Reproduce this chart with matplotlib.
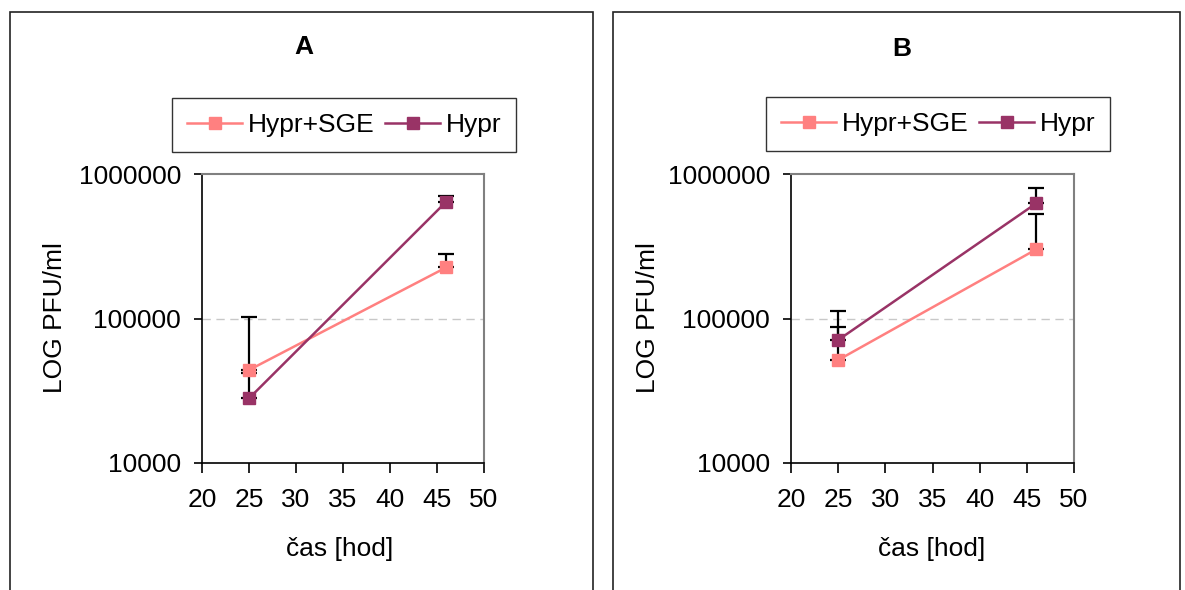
import numpy as np
import matplotlib.pyplot as plt
from matplotlib.patches import Rectangle
from matplotlib.ticker import FixedLocator, FixedFormatter

plt.rcParams['font.family'] = ['Liberation Sans', 'DejaVu Sans']

cas = [25, 46]
labels = ['Hypr+SGE', 'Hypr']
colors = ['#ff8080', '#993366']

# panel A
a_sge = [44000, 226000]
a_sge_up = [103000, 279000]
a_hypr = [28000, 645000]
a_hypr_up = [42000, 708000]

# panel B
b_sge = [51600, 301000]
b_sge_up = [87800, 528000]
b_hypr = [71000, 627000]
b_hypr_up = [113000, 796000]

yticks = [10000, 100000, 1000000]
ytick_labels = ['10000', '100000', '1000000']
xticks = [20, 25, 30, 35, 40, 45, 50]

W, H = 1185, 590
FS = 19
fig = plt.figure(figsize=(W / 100, H / 100), dpi=100)


def px(x0, y0, x1, y1):
    # pixel box (top-left origin) to figure coords
    return [x0 / W, 1 - y1 / H, (x1 - x0) / W, (y1 - y0) / H]


def panel(ax_box, frame_x, title, title_xy, leg_xy, ylab_x, xlab_x, series):
    fig.add_artist(Rectangle((frame_x[0] / W, -0.05), (frame_x[1] - frame_x[0]) / W,
                             1.05 - 12 / H, transform=fig.transFigure,
                             fill=False, edgecolor='#222222', lw=1.2))
    ax = fig.add_axes(px(*ax_box))
    handles = []
    for (vals, ups), lab, col in zip(series, labels, colors):
        err = [np.zeros(len(vals)), np.array(ups) - np.array(vals)]
        ax.errorbar(cas, vals, yerr=err, fmt='none', ecolor='black',
                    elinewidth=1.6, capsize=6, capthick=1.6, zorder=2)
    for (vals, ups), lab, col in zip(series, labels, colors):
        h, = ax.plot(cas, vals, '-s', color=col, lw=1.8, markersize=9,
                     label=lab, zorder=3)
        handles.append(h)
    ax.set_yscale('log')
    ax.set_ylim(10000, 1000000)
    ax.set_xlim(20, 50)
    ax.yaxis.set_major_locator(FixedLocator(yticks))
    ax.yaxis.set_major_formatter(FixedFormatter(ytick_labels))
    ax.yaxis.set_minor_locator(FixedLocator([]))
    ax.set_xticks(xticks)
    ax.axhline(100000, color='#c8c8c8', lw=1, ls=(0, (6, 4)), zorder=1)
    ax.tick_params(labelsize=FS, direction='out', width=1.2)
    ax.tick_params(axis='y', length=6, pad=9)
    ax.tick_params(axis='x', length=7, pad=11)
    for s in ['top', 'right']:
        ax.spines[s].set_color('#808080')
        ax.spines[s].set_linewidth(1.5)
    for s in ['left', 'bottom']:
        ax.spines[s].set_color('black')
        ax.spines[s].set_linewidth(1.2)
    fig.text(title_xy[0] / W, 1 - title_xy[1] / H, title, fontsize=FS,
             fontweight='bold', ha='center', va='center')
    fig.text(ylab_x / W, 1 - 318 / H, 'LOG PFU/ml', fontsize=FS,
             rotation=90, ha='center', va='center')
    fig.text(xlab_x / W, 1 - 549 / H, 'čas [hod]', fontsize=FS,
             ha='center', va='center')
    leg = fig.legend(handles=handles, loc='center', ncol=2,
                     bbox_to_anchor=(leg_xy[0] / W, 1 - leg_xy[1] / H),
                     fontsize=FS, frameon=True, fancybox=False,
                     edgecolor='black', handlelength=2.1, columnspacing=0.4,
                     handletextpad=0.2, borderpad=0.55, borderaxespad=0)
    leg.get_frame().set_linewidth(1.0)


panel((202, 174, 484, 463), (10, 593), 'A', (304, 47), (344, 125), 55, 340,
      [(a_sge, a_sge_up), (a_hypr, a_hypr_up)])
panel((791, 174, 1074, 463), (613, 1180), 'B', (902, 49), (938, 124), 648, 932,
      [(b_sge, b_sge_up), (b_hypr, b_hypr_up)])

fig.savefig('out.png', dpi=100)
